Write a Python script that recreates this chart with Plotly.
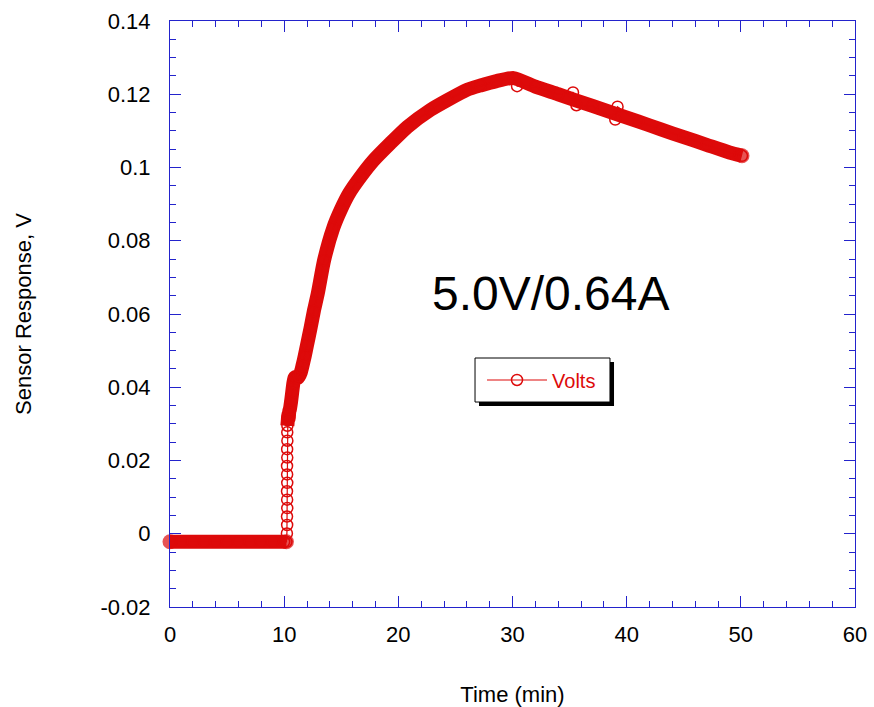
import plotly.graph_objects as go

# ---- data ----
flat_time = [0, 1, 2, 3, 4, 5, 6, 7, 8, 9, 10, 10.2]
flat_volts = [-0.0022, -0.0022, -0.0022, -0.0022, -0.0022, -0.0022,
              -0.0022, -0.0022, -0.0022, -0.0022, -0.0022, -0.0022]

rise_time = [10.24, 10.26, 10.25, 10.27, 10.26, 10.25, 10.27, 10.26,
             10.25, 10.27, 10.26, 10.28, 10.27]
rise_volts = [0.0001, 0.0024, 0.0047, 0.0070, 0.0093, 0.0116, 0.0139,
              0.0162, 0.0185, 0.0208, 0.0231, 0.0254, 0.0277]

curve_time = [10.28, 10.32, 10.36, 10.40, 10.45, 10.50, 10.60, 10.70, 10.80,
              10.90, 11.00, 11.15, 11.30, 11.45, 11.60, 11.80, 12.00, 12.30,
              12.60, 12.95, 13.50, 14.30, 14.95, 15.70, 16.70, 17.85, 19.30,
              20.80, 22.80, 24.30, 26.00, 27.20, 28.60, 30.10, 32.0, 34.0,
              37.0, 41.0, 43.0, 45.0, 47.0, 49.0, 50.1]
curve_volts = [0.0295, 0.0310, 0.0325, 0.0315, 0.0335, 0.0340, 0.0360, 0.0385,
               0.0410, 0.0425, 0.0428, 0.0425, 0.0430, 0.0440, 0.0458, 0.0485,
               0.0515, 0.0560, 0.0608, 0.0657, 0.0747, 0.0835, 0.0884, 0.0930,
               0.0975, 0.1020, 0.1066, 0.1111, 0.1157, 0.1184, 0.1212, 0.1224,
               0.1236, 0.1244, 0.1221, 0.1200, 0.1168, 0.1126, 0.1104, 0.1083,
               0.1062, 0.1041, 0.1032]

# stray readings that sit just off the main trend
stray_time = [30.4, 35.3, 35.6, 39.0, 39.2]
stray_volts = [0.1222, 0.1205, 0.1170, 0.1131, 0.1166]

x_tick_vals = [0, 10, 20, 30, 40, 50, 60]
x_tick_text = ["0", "10", "20", "30", "40", "50", "60"]
y_tick_vals = [-0.02, 0, 0.02, 0.04, 0.06, 0.08, 0.1, 0.12, 0.14]
y_tick_text = ["-0.02", "0", "0.02", "0.04", "0.06", "0.08", "0.1", "0.12", "0.14"]

series_name = "Volts"
label_text = "5.0V/0.64A"
x_title = "Time (min)"
y_title = "Sensor Response, V"

# ---- figure ----
RED = "#dd0a0a"
AXIS = "#2323cc"
FONT = "Arial, Liberation Sans, sans-serif"

pts = sorted(zip(flat_time + rise_time + curve_time + stray_time,
                 flat_volts + rise_volts + curve_volts + stray_volts),
             key=lambda p: p[0])
all_time = [p[0] for p in pts]
all_volts = [p[1] for p in pts]

# dense band formed by overlapping markers in the original
band_time = flat_time + [None] + curve_time
band_volts = flat_volts + [None] + curve_volts
n1, n2 = len(flat_time), len(curve_time)
band_sizes = [15] + [0] * (n1 - 2) + [15] + [0] + [0] * (n2 - 1) + [15]

fig = go.Figure()
fig.add_trace(go.Scatter(
    x=band_time, y=band_volts, mode="lines+markers",
    line=dict(color=RED, width=14, shape="spline", smoothing=0.6),
    marker=dict(symbol="circle", size=band_sizes, color=RED, line=dict(width=0)),
    connectgaps=False, showlegend=False, hoverinfo="skip", cliponaxis=False))
fig.add_trace(go.Scatter(
    x=all_time, y=all_volts, mode="lines+markers", name=series_name,
    line=dict(color=RED, width=1.2),
    marker=dict(symbol="circle-open", size=11, color=RED, line=dict(width=1.5))))

axis_common = dict(
    showline=True, linecolor=AXIS, linewidth=1, mirror="allticks",
    ticks="inside", ticklen=11, tickcolor=AXIS, tickwidth=1,
    showgrid=False, zeroline=False, automargin=False,
    tickfont=dict(family=FONT, size=22, color="black"),
)

fig.update_xaxes(
    range=[0, 60], tickvals=x_tick_vals, ticktext=x_tick_text,
    minor=dict(dtick=2, ticks="inside", ticklen=6, tickcolor=AXIS, tickwidth=1, showgrid=False),
    title=dict(text=x_title, font=dict(family=FONT, size=22, color="black"), standoff=44),
    ticklabelstandoff=8,
    **axis_common)
fig.update_yaxes(
    range=[-0.02, 0.14], tickvals=y_tick_vals, ticktext=y_tick_text,
    minor=dict(dtick=0.005, ticks="inside", ticklen=6, tickcolor=AXIS, tickwidth=1, showgrid=False),
    title=dict(text=y_title, font=dict(family=FONT, size=22, color="black"), standoff=62),
    ticklabelstandoff=14,
    **axis_common)

fig.add_annotation(x=33.4, y=0.0655, xref="x", yref="y", text=label_text,
                   showarrow=False, font=dict(family=FONT, size=48, color="black"))

# legend frame with drop shadow
fig.add_shape(type="rect", xref="paper", yref="paper",
              x0=0.4511, x1=0.6482, y0=0.3430, y1=0.4181,
              fillcolor="black", line=dict(width=0), layer="above")
fig.add_shape(type="rect", xref="paper", yref="paper",
              x0=0.4453, x1=0.6423, y0=0.3498, y1=0.4249,
              fillcolor="white", line=dict(color="black", width=1), layer="above")

fig.update_layout(
    width=874, height=707,
    margin=dict(l=170, r=19, t=21, b=100),
    paper_bgcolor="white", plot_bgcolor="white",
    font=dict(family=FONT),
    legend=dict(x=0.4555, y=0.3874, xanchor="left", yanchor="middle",
                bgcolor="rgba(0,0,0,0)", borderwidth=0,
                font=dict(family=FONT, size=20, color=RED),
                itemwidth=60),
)

fig.write_html("out.html", config={"displayModeBar": False},
               post_script="document.body.style.margin='0';document.body.style.overflow='hidden';")
